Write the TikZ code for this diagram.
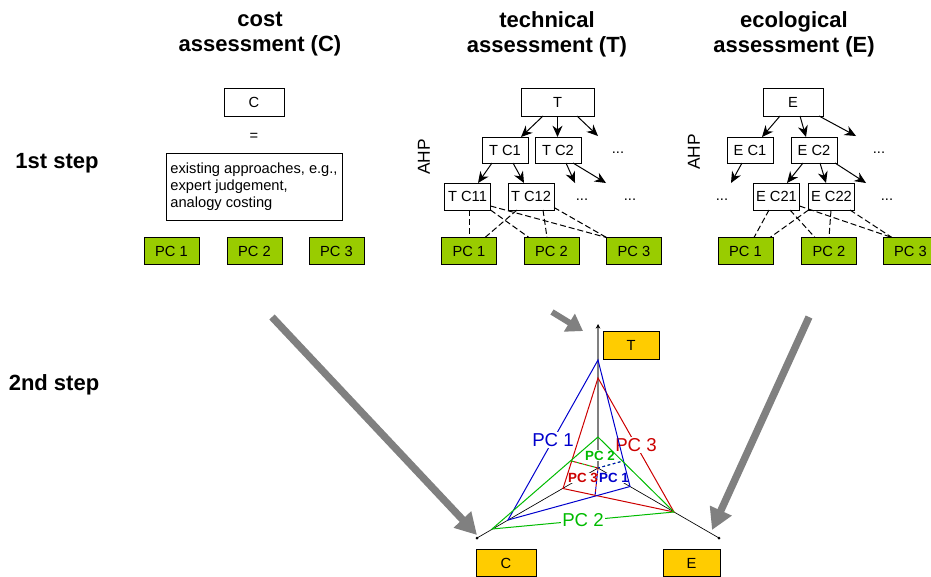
\documentclass[tikz,border=0pt]{standalone}
\usepackage{fontspec}
\setmainfont{Liberation Sans}
\usetikzlibrary{arrows.meta,calc}
\definecolor{pcgreen}{RGB}{153,204,0}
\definecolor{axorange}{RGB}{255,204,0}
\definecolor{arrgray}{RGB}{128,128,128}
\definecolor{pblue}{RGB}{0,0,204}
\definecolor{pred}{RGB}{204,0,0}
\definecolor{pgreen}{RGB}{0,187,0}
\begin{document}
\begin{tikzpicture}[x=0.75pt,y=-0.75pt,
  every node/.style={inner sep=0pt,outer sep=0pt},
  title/.style={font=\bfseries\fontsize{16.5}{19}\selectfont,align=center},
  steplbl/.style={font=\bfseries\fontsize{16.5}{19}\selectfont},
  box/.style={draw,line width=0.75pt,fill=white,font=\fontsize{11}{12.75}\selectfont},
  sbox/.style={box,minimum width=34.5pt,minimum height=19.5pt},
  mbox/.style={box,minimum width=34.5pt,minimum height=20.25pt},
  pc/.style={draw,line width=0.75pt,fill=pcgreen,minimum width=41.25pt,minimum height=20.25pt,font=\fontsize{11}{13}\selectfont},
  obox/.style={draw,line width=0.75pt,fill=axorange,minimum height=20.5pt,font=\fontsize{11}{13}\selectfont},
  plain/.style={font=\fontsize{11}{13}\selectfont},
  ahp/.style={rotate=90,font=\fontsize{13}{15}\selectfont},
  arr/.style={line width=0.75pt,-{Stealth[length=8.5pt,width=7.5pt]}},
  dsh/.style={line width=0.75pt,dash pattern=on 4.5pt off 2.25pt},
  bigarr/.style={draw=arrgray,line width=5.5pt,-{Triangle[length=16pt,width=17pt]}},
  smallarr/.style={draw=arrgray,line width=4.5pt,-{Triangle[length=12pt,width=15pt]}},
  poly/.style={line width=0.75pt},
  biglbl/.style={fill=white,inner sep=1pt,font=\fontsize{14}{16}\selectfont},
  inlbl/.style={fill=white,inner sep=0.3pt,font=\bfseries\fontsize{10}{12}\selectfont},
  hid/.style={line width=0.75pt,dash pattern=on 2pt off 2pt}
]
\useasboundingbox (0,0) rectangle (931,576);
\clip (0,0) rectangle (931,576);

% titles
\node[title] (tC) at (260,34) {cost\\assessment (C)};
\node[title] (tT) at (547,34) {technical\\assessment (T)};
\node[title] (tE) at (794,34) {ecological\\assessment (E)};
\node[steplbl] (s1) at (57,163) {1st step};
\node[steplbl] (s2) at (54,385) {2nd step};

% cost column
\node[box,minimum width=45pt,minimum height=21pt] (Cb) at (254,102) {C};
\node[plain] (eq) at (254,137) {=};
\node[box,minimum width=132pt,minimum height=50.25pt,align=left] (Cm) at (254,186.5) {existing approaches, e.g.,\\expert judgement,\\analogy costing};
\node[pc] (pcC1) at (171.5,251) {PC 1};
\node[pc] (pcC2) at (254.5,251) {PC 2};
\node[pc] (pcC3) at (336.5,251) {PC 3};

% technical column
\node[ahp] (ahpT) at (424,157) {AHP};
\node[box,minimum width=54.75pt,minimum height=21pt] (T) at (557.5,102) {T};
\node[sbox] (TC1) at (505,150) {T C1};
\node[sbox] (TC2) at (558,150) {T C2};
\node[mbox] (TC11) at (467.5,196.5) {T C11};
\node[mbox] (TC12) at (531,196.5) {T C12};
\node[plain] (tdots1) at (618,153) {...};
\node[plain] (tdots2) at (582,200) {...};
\node[plain] (tdots3) at (630,200) {...};
\node[pc] (pcT1) at (469,251) {PC 1};
\node[pc] (pcT2) at (551.5,251) {PC 2};
\node[pc] (pcT3) at (634,251) {PC 3};
\coordinate (t3) at (598,136);
\coordinate (t6) at (575,183);
\coordinate (t7) at (606,183);
\draw[arr] ($(T.south)+(-14.5,0)$) -- ($(TC1.north)+(16,0)$);
\draw[arr] (T.south) -- (T.south |- TC2.north);
\draw[arr] ($(T.south)+(19.5,0)$) -- (t3);
\draw[arr] ($(TC1.south)+(-13,0)$) -- ($(TC11.north)+(10.5,0)$);
\draw[arr] ($(TC1.south)+(8,0)$) -- ($(TC12.north)+(-7,0)$);
\draw[arr] ($(TC2.south)+(8,0)$) -- (t6);
\draw[arr] ($(TC2.south)+(15,0)$) -- (t7);
\draw[dsh] ($(TC11.south)+(1.5,0)$) -- (pcT1.north);
\draw[dsh] (TC11.south east) -- ($(pcT2.north)+(-22.5,0)$);
\draw[dsh] ($(TC11.east)+(0,9.5)$) -- (pcT3.north west);
\draw[dsh] ($(TC12.south)+(-14,0)$) -- ($(pcT1.north)+(16,0)$);
\draw[dsh] ($(TC12.south)+(12,0)$) -- ($(pcT2.north)+(-4.5,0)$);
\draw[dsh] ($(TC12.east)+(0,11)$) -- (pcT3.north west);

% ecological column
\node[ahp] (ahpE) at (694,152) {AHP};
\node[box,minimum width=45pt,minimum height=21pt] (E) at (793,102) {E};
\node[sbox] (EC1) at (750,150) {E C1};
\node[sbox] (EC2) at (814,150) {E C2};
\node[mbox] (EC21) at (776.5,196.5) {E C21};
\node[mbox] (EC22) at (831.5,196.5) {E C22};
\node[plain] (edots1) at (879,153) {...};
\node[plain] (edots2) at (722,200) {...};
\node[plain] (edots3) at (887,200) {...};
\node[pc] (pcE1) at (745.5,251) {PC 1};
\node[pc] (pcE2) at (829,251) {PC 2};
\node[pc] (pcE3) at (910.5,251) {PC 3};
\coordinate (e10) at (856,136);
\coordinate (e11) at (731,183);
\coordinate (e14) at (866,183);
\draw[arr] ($(E.south)+(-13,0)$) -- ($(EC1.north)+(12,0)$);
\draw[arr] ($(E.south)+(7,0)$) -- ($(EC2.north)+(-8,0)$);
\draw[arr] ($(E.south)+(26,0)$) -- (e10);
\draw[arr] ($(EC1.south)+(-8,0)$) -- (e11);
\draw[arr] ($(EC2.south)+(-11,0)$) -- ($(EC21.north)+(10.5,0)$);
\draw[arr] ($(EC2.south)+(6,0)$) -- ($(EC22.north)+(-5.5,0)$);
\draw[arr] ($(EC2.south)+(21,0)$) -- (e14);
\draw[dsh] ($(EC21.south)+(-7.5,0)$) -- ($(pcE1.north)+(8.5,0)$);
\draw[dsh] ($(EC21.south)+(13.5,0)$) -- ($(pcE2.north)+(-14,0)$);
\draw[dsh] ($(EC21.east)+(0,9.5)$) -- ($(pcE3.north)+(-18.5,0)$);
\draw[dsh] (EC22.south west) -- ($(pcE1.north)+(24.5,0)$);
\draw[dsh] ($(EC22.south)+(-0.5,0)$) -- (pcE2.north);
\draw[dsh] ($(EC22.south)+(18.5,0)$) -- ($(pcE3.north)+(-18.5,0)$);

% second step chart
\coordinate (O) at (598,468);
\coordinate (Tend) at (598,324);
\coordinate (Cend) at (477,538);
\coordinate (Eend) at (719,538);
\coordinate (b1) at (598,360);
\coordinate (b2) at (508,520);
\coordinate (b3) at (630,486.5);
\coordinate (r1) at (598,378);
\coordinate (r2) at (563,488.5);
\coordinate (r3) at (674,512);
\coordinate (g1) at (598,437);
\coordinate (g2) at (492,529);
\coordinate (g3) at (674,512);
\coordinate (hl) at (571.5,461);
\coordinate (hr) at (623,461);
\coordinate (hb) at (595,496);

\draw[line width=0.5pt] (O) -- (Cend);
\draw[line width=0.5pt] (O) -- (Eend);
\fill (Cend) circle (1.5);
\fill (Eend) circle (1.5);
\draw[arrgray,line width=1.8pt,-{Stealth[black,length=3.5pt,width=3.5pt]}] (O) -- (Tend);

\node[inlbl,text=pgreen] (iPC2) at (600,455.5) {PC 2};
\node[inlbl,text=pred] (iPC3) at (583,478) {PC 3};
\node[inlbl,text=pblue] (iPC1) at (614,478) {PC 1};

\draw[poly,pred] (r1) -- node[biglbl,text=pred] (lPC3) {PC 3} (r3) -- (r2) -- cycle;
\draw[poly,pblue] (b1) -- node[biglbl,text=pblue] (lPC1) {PC 1} (b2) -- (b3) -- cycle;
\draw[poly,pgreen] (g1) -- (g2) -- node[biglbl,text=pgreen] (lPC2) {PC 2} (g3) -- cycle;

\draw[hid,pgreen] (hl) -- (O) -- (hr);
\draw[hid,pred,dash phase=2pt] (hl) -- (O);
\draw[hid,pred] (O) -- (hb);
\draw[hid,pblue,dash phase=2pt] (hr) -- (O);
\draw[hid,pblue,dash phase=2pt] (O) -- (hb);

\node[obox,minimum width=42pt] (oT) at (631,345.5) {T};
\node[obox,minimum width=45pt] (oC) at (506,563) {C};
\node[obox,minimum width=42.75pt] (oE) at (691.5,563) {E};

% gray arrows
\coordinate (gs1) at (272,317);
\coordinate (gs2) at (809,317);
\coordinate (gs3) at (552,312);
\coordinate (gtC) at (477,535);
\coordinate (gtE) at (712,530);
\coordinate (gtT) at (583,331);
\draw[bigarr] (gs1) -- (gtC);
\draw[bigarr] (gs2) -- (gtE);
\draw[smallarr] (gs3) -- (gtT);
\end{tikzpicture}
\end{document}
